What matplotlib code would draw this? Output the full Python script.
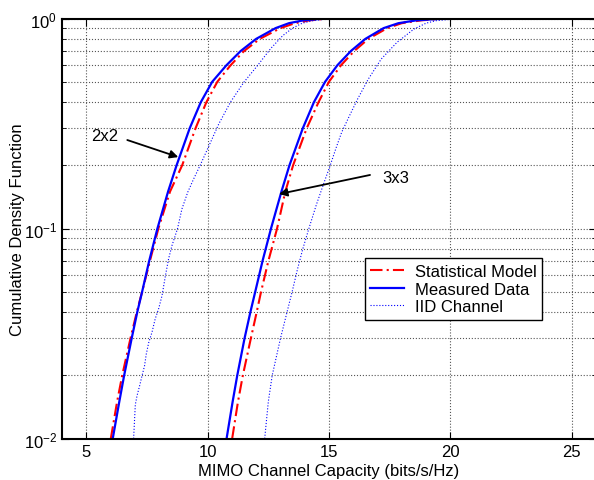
import numpy as np
import matplotlib
matplotlib.use("Agg")
import matplotlib.pyplot as plt
from matplotlib.ticker import LogLocator, NullFormatter

plt.rcParams['font.family'] = ['Liberation Sans', 'DejaVu Sans']

# 2x2 curves (capacity in bits/s/Hz, CDF)
x2_meas = [6.09, 6.36, 6.56, 6.87, 7.10, 7.30, 7.59, 7.93, 8.37, 8.72, 9.26, 9.72, 10.19, 10.78,
           11.36, 12.0, 12.8, 13.35, 13.95, 14.6, 15.2, 16.0]
y2_meas = [0.01, 0.015, 0.02, 0.03, 0.04, 0.05, 0.07, 0.1, 0.15, 0.2, 0.3, 0.4, 0.5, 0.6,
           0.7, 0.8, 0.9, 0.95, 0.98, 0.995, 1.0, 1.0]
x2_stat = [6.01, 6.27, 6.48, 6.82, 7.08, 7.30, 7.62, 7.97, 8.45, 8.95, 9.50, 9.95, 10.40, 10.95,
           11.50, 12.15, 13.0, 13.6, 14.2, 14.8, 15.5, 16.0]
y2_stat = [0.01, 0.015, 0.02, 0.03, 0.04, 0.05, 0.07, 0.1, 0.15, 0.2, 0.3, 0.4, 0.5, 0.6,
           0.7, 0.8, 0.9, 0.95, 0.98, 0.995, 1.0, 1.0]
x2_iid = [6.95, 7.02, 7.09, 7.20, 7.29, 7.40, 7.47, 7.57, 7.71, 7.84, 7.98, 8.12, 8.26, 8.39,
          8.53, 8.76, 8.94, 9.18, 9.42, 9.70, 10.0, 10.46, 10.94, 11.49, 12.05, 12.6, 13.1,
          13.5, 13.9, 14.4, 15.0, 16.0]
y2_iid = [0.01, 0.0145, 0.016, 0.0179, 0.0198, 0.0222, 0.0252, 0.0286, 0.0322, 0.0372, 0.0415,
          0.0479, 0.0596, 0.0717, 0.083, 0.1, 0.124, 0.149, 0.172, 0.201, 0.24, 0.315, 0.4,
          0.497, 0.596, 0.72, 0.83, 0.9, 0.95, 0.98, 0.995, 1.0]

# 3x3 curves
x3_meas = [10.78, 11.03, 11.22, 11.52, 11.76, 11.96, 12.26, 12.61, 13.04, 13.37, 13.92, 14.38,
           14.84, 15.35, 15.90, 16.50, 17.25, 17.86, 18.6, 19.5, 20.5, 21.0]
y3_meas = [0.01, 0.015, 0.02, 0.03, 0.04, 0.05, 0.07, 0.1, 0.15, 0.2, 0.3, 0.4,
           0.5, 0.6, 0.7, 0.8, 0.9, 0.95, 0.98, 0.995, 1.0, 1.0]
x3_stat = [11.01, 11.25, 11.45, 11.78, 12.02, 12.20, 12.50, 12.86, 13.20, 13.52, 14.08, 14.57,
           15.0, 15.5, 16.04, 16.62, 17.4, 18.0, 18.8, 19.6, 20.5]
y3_stat = [0.01, 0.015, 0.02, 0.03, 0.04, 0.05, 0.07, 0.1, 0.15, 0.2, 0.3, 0.4,
           0.5, 0.6, 0.7, 0.8, 0.9, 0.95, 0.98, 0.995, 1.0]
x3_iid = [12.35, 12.50, 12.66, 13.0, 13.27, 13.48, 13.70, 13.92, 14.17, 14.48, 14.80, 15.05,
          15.28, 15.52, 15.82, 16.18, 16.62, 17.15, 17.80, 18.5, 19.0, 19.4, 20.2, 21.0, 22.5]
y3_iid = [0.01, 0.015, 0.02, 0.03, 0.04, 0.05, 0.064, 0.08, 0.1, 0.13, 0.166, 0.2,
          0.24, 0.287, 0.34, 0.414, 0.515, 0.641, 0.77, 0.891, 0.95, 0.976, 0.995, 1.0, 1.0]

fig = plt.figure(figsize=(5.94, 4.81), dpi=100)
ax = fig.add_axes([62 / 594, 1 - 439.7 / 481, (596 - 62) / 594, (439.7 - 19.5) / 481])

red = '#ff0000'
blue = '#0000ff'

ax.plot(x2_stat, y2_stat, color=red, lw=1.5, dashes=(6, 2, 1, 2), label='Statistical Model')
ax.plot(x2_meas, y2_meas, '-', color=blue, lw=1.6, label='Measured Data')
ax.plot(x2_iid, y2_iid, ':', color=blue, lw=0.8, label='IID Channel')
ax.plot(x3_stat, y3_stat, color=red, lw=1.5, dashes=(6, 2, 1, 2))
ax.plot(x3_meas, y3_meas, '-', color=blue, lw=1.6)
ax.plot(x3_iid, y3_iid, ':', color=blue, lw=0.8)

ax.set_yscale('log')
ax.set_xlim(4, 26)
ax.set_ylim(0.01, 1)
ax.set_xticks([5, 10, 15, 20, 25])
ax.yaxis.set_minor_locator(LogLocator(base=10, subs=np.arange(2, 10)))
ax.yaxis.set_minor_formatter(NullFormatter())
ax.tick_params(which='both', direction='in', top=True, right=True, labelsize=12)
ax.tick_params(which='major', length=5)
ax.tick_params(which='minor', length=3)
ax.grid(True, which='major', ls=':', color='#555555', lw=0.8)
ax.grid(True, which='minor', axis='y', ls=':', color='#555555', lw=0.8)
for s in ax.spines.values():
    s.set_linewidth(1.5)

ax.set_xlabel('MIMO Channel Capacity (bits/s/Hz)', fontsize=12, labelpad=3)
ax.set_ylabel('Cumulative Density Function', fontsize=12, labelpad=-1)

arrow = dict(arrowstyle='-|>', color='k', lw=1.3, mutation_scale=12, shrinkA=0, shrinkB=0)
ax.text(5.74, 0.276, '2x2', fontsize=12, ha='center', va='center')
ax.annotate('', xy=(8.79, 0.219), xytext=(6.69, 0.264), arrowprops=arrow)
ax.text(17.76, 0.175, '3x3', fontsize=12, ha='center', va='center')
ax.annotate('', xy=(12.94, 0.146), xytext=(16.69, 0.18), arrowprops=arrow)

leg = ax.legend(loc='upper left', bbox_to_anchor=(0.5666, 0.4293), borderaxespad=0, fontsize=12,
                handlelength=2.0, fancybox=False, framealpha=1, edgecolor='k', labelspacing=0.15,
                borderpad=0.35, handletextpad=0.65)
leg.get_frame().set_linewidth(1.0)

fig.savefig('out.png', dpi=100)
